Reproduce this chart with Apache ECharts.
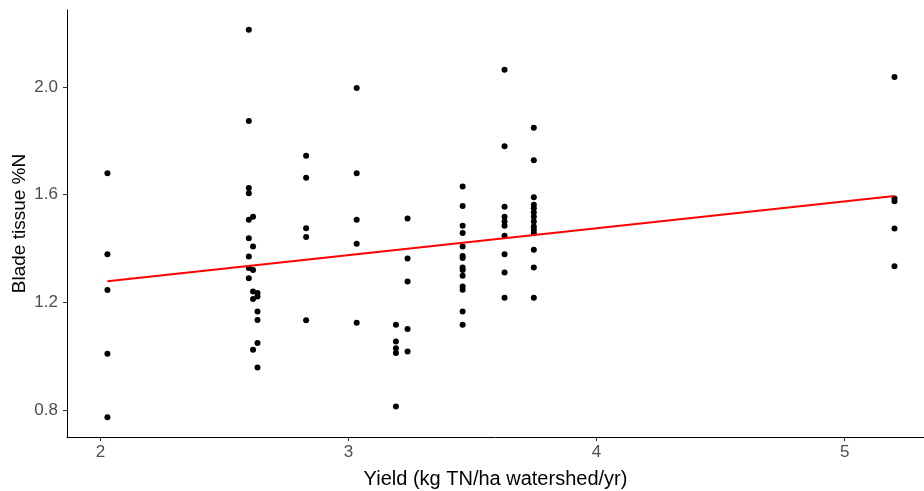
<!doctype html>
<html>
<head>
    <meta charset="utf-8">
    <title>Blade tissue %N vs yield</title>
    <script type="text/javascript" src="https://cdn.jsdelivr.net/npm/echarts@6/dist/echarts.min.js"></script>
    <style>
        html, body { margin: 0; padding: 0; background: #fff; }
        #container { width: 924px; height: 491px; }
    </style>
</head>
<body>
<div id="container"></div>
<script type="text/javascript">
    // yield (x) and blade tissue %N (y)
    var yieldX = [
        2.028, 2.028, 2.028, 2.028, 2.028,
        2.598, 2.598, 2.598, 2.598, 2.598, 2.598, 2.598, 2.598, 2.598,
        2.615, 2.615, 2.615, 2.615, 2.615, 2.615,
        2.633, 2.633, 2.633, 2.633, 2.633, 2.633,
        2.829, 2.829, 2.829, 2.829, 2.829,
        3.033, 3.033, 3.033, 3.033, 3.033,
        3.191, 3.191, 3.191, 3.191, 3.191,
        3.238, 3.238, 3.238, 3.238, 3.238,
        3.460, 3.460, 3.460, 3.460, 3.460, 3.460, 3.460, 3.460, 3.460, 3.460, 3.460, 3.460, 3.460, 3.460,
        3.629, 3.629, 3.629, 3.629, 3.629, 3.629, 3.629, 3.629, 3.629, 3.629,
        3.747, 3.747, 3.747, 3.747, 3.747, 3.747, 3.747, 3.747, 3.747, 3.747, 3.747, 3.747, 3.747, 3.747,
        5.201, 5.201, 5.201, 5.201, 5.201
    ];
    var bladeN = [
        1.679, 1.378, 1.245, 1.008, 0.772,
        2.213, 1.873, 1.624, 1.605, 1.506, 1.438, 1.370, 1.327, 1.289,
        1.518, 1.407, 1.320, 1.240, 1.212, 1.023,
        1.234, 1.221, 1.165, 1.134, 1.048, 0.957,
        1.744, 1.663, 1.475, 1.442, 1.133,
        1.996, 1.679, 1.506, 1.417, 1.124,
        1.116, 1.054, 1.029, 1.011, 0.812,
        1.511, 1.362, 1.277, 1.100, 1.017,
        1.630, 1.558, 1.484, 1.457, 1.407, 1.372, 1.364, 1.329, 1.320, 1.298, 1.258, 1.246, 1.165, 1.116,
        2.064, 1.780, 1.555, 1.518, 1.500, 1.484, 1.447, 1.378, 1.310, 1.217,
        1.848, 1.728, 1.590, 1.562, 1.549, 1.533, 1.518, 1.500, 1.481, 1.469, 1.457, 1.395, 1.329, 1.217,
        2.037, 1.585, 1.575, 1.474, 1.334
    ];
    // linear fit line ends
    var fitX = [2.028, 5.201];
    var fitY = [1.278, 1.595];
    var xTicks = [2, 3, 4, 5];
    var yTicks = [0.8, 1.2, 1.6, 2.0];

    var points = [];
    for (var i = 0; i < yieldX.length; i++) {
        points.push([yieldX[i], bladeN[i]]);
    }
    var fitLine = [];
    for (var j = 0; j < fitX.length; j++) {
        fitLine.push([fitX[j], fitY[j]]);
    }

    var dom = document.getElementById("container");
    var myChart = echarts.init(dom);
    var option = {
        animation: false,
        grid: { left: 67, top: 10, right: 0, bottom: 54, outerBoundsMode: 'none' },
        xAxis: {
            type: 'value',
            min: 1.865,
            max: 5.32,
            name: 'Yield (kg TN/ha watershed/yr)',
            nameLocation: 'middle',
            nameGap: 32,
            nameMoveOverlap: false,
            nameTextStyle: { fontFamily: 'Liberation Sans', fontSize: 20, color: '#000' },
            axisLine: { lineStyle: { color: '#000', width: 1 } },
            axisTick: { length: 4, lineStyle: { color: '#333' }, customValues: xTicks },
            axisLabel: {
                customValues: xTicks,
                fontFamily: 'Liberation Sans', fontSize: 17, color: '#4D4D4D', margin: 7,
                formatter: function (v) { return String(v); }
            },
            splitLine: { show: false }
        },
        yAxis: {
            type: 'value',
            min: 0.699,
            max: 2.286,
            name: 'Blade tissue %N',
            nameLocation: 'middle',
            nameGap: 38,
            nameMoveOverlap: false,
            nameTextStyle: { fontFamily: 'Liberation Sans', fontSize: 19, color: '#000' },
            axisLine: { show: true, lineStyle: { color: '#000', width: 1 } },
            axisTick: { show: true, length: 4, lineStyle: { color: '#333' }, customValues: yTicks },
            axisLabel: {
                customValues: yTicks,
                fontFamily: 'Liberation Sans', fontSize: 17, color: '#4D4D4D', margin: 9,
                formatter: function (v) { return v.toFixed(1); }
            },
            splitLine: { show: false }
        },
        series: [
            {
                type: 'scatter',
                data: points,
                symbol: 'circle',
                symbolSize: 6,
                itemStyle: { color: '#000', opacity: 1 },
                z: 2
            },
            {
                type: 'line',
                data: fitLine,
                symbol: 'none',
                lineStyle: { color: '#FF0000', width: 2 },
                z: 3
            }
        ]
    };
    myChart.setOption(option);
</script>
</body>
</html>
